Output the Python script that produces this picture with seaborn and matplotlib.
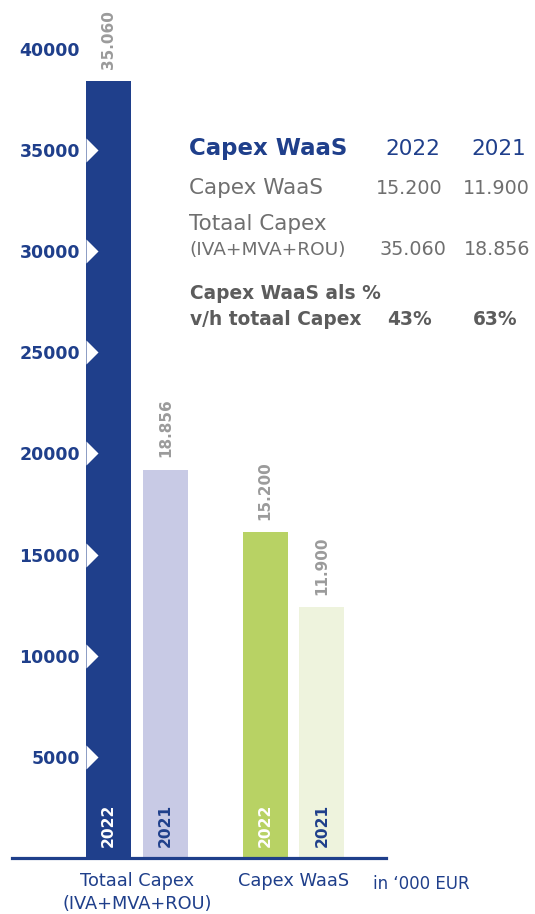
import numpy as np
import pandas as pd
import seaborn as sns
import matplotlib.pyplot as plt
from matplotlib.path import Path

# ---------------------------------------------------------------------------
# data
# ---------------------------------------------------------------------------
groups = ["Totaal Capex\n(IVA+MVA+ROU)", "Totaal Capex\n(IVA+MVA+ROU)",
          "Capex WaaS", "Capex WaaS"]
years = ["2022", "2021", "2022", "2021"]
# heights as drawn in the source picture (bars are not exactly to scale)
bar_heights = [38400, 19200, 16100, 12400]
value_labels = ["35.060", "18.856", "15.200", "11.900"]

y_ticks = [5000, 10000, 15000, 20000, 25000, 30000, 35000, 40000]

table_years = ["2022", "2021"]
waas_values = ["15.200", "11.900"]
total_values = ["35.060", "18.856"]
share_values = ["43%", "63%"]

NAVY = "#1f3f8b"
GRAY_VAL = "#9b9b9b"
GRAY_TXT = "#6f6f6f"
GRAY_BOLD = "#5c5c5c"
bar_colors = ["#1f3f8b", "#c8cae5", "#b8d264", "#eef3dd"]
year_text_colors = ["white", NAVY, "white", NAVY]

df = pd.DataFrame({"group": groups, "year": years, "height": bar_heights,
                   "label": value_labels, "color": bar_colors,
                   "ycolor": year_text_colors})

# ---------------------------------------------------------------------------
# figure
# ---------------------------------------------------------------------------
sns.set_style("white")
plt.rcParams["font.family"] = ["DejaVu Sans"]

W, H = 535, 914
fig = plt.figure(figsize=(W / 100, H / 100), dpi=100)
ax = fig.add_axes([12 / W, 56 / H, 374 / W, 829.4 / H])

sns.barplot(data=df, x="group", y="height", hue="year", hue_order=["2022", "2021"],
            order=[groups[0], groups[2]], width=0.728, gap=0.21,
            palette=["#1f3f8b", "#c8cae5"], errorbar=None, legend=False, ax=ax)

ax.set_ylim(0, 41000)
ax.set_xlim(-0.799, 1.591)

# recolour each bar and add labels
for hue_i, cont in enumerate(ax.containers):
    yr = ["2022", "2021"][hue_i]
    sub = df[df["year"] == yr].reset_index(drop=True)
    for bar, (_, row) in zip(cont, sub.iterrows()):
        bar.set_facecolor(row["color"])
        bar.set_edgecolor("none")
        cx = bar.get_x() + bar.get_width() / 2
        ax.annotate(yr, xy=(cx, 0), xytext=(0, 8), textcoords="offset points",
                    rotation=90, ha="center", va="bottom", fontsize=11.2,
                    fontweight="bold", color=row["ycolor"])
    ax.bar_label(cont, labels=list(sub["label"]), rotation=90, padding=9,
                 fontsize=11, fontweight="bold", color=GRAY_VAL)

# white chevron notches on the first bar at each tick
first_bar = ax.containers[0][0]
chevron = Path([(0, -1), (1, 0), (0, 1), (0, -1)])
ax.scatter([first_bar.get_x()] * len(y_ticks), y_ticks, marker=chevron,
           s=300, color="white", linewidths=0, zorder=5, clip_on=False)

# axes styling
for side in ["top", "right", "left"]:
    ax.spines[side].set_visible(False)
ax.spines["bottom"].set_color(NAVY)
ax.spines["bottom"].set_linewidth(2.3)

ax.set_yticks(y_ticks)
ax.set_yticklabels([str(v) for v in y_ticks], fontweight="bold", fontsize=12.5)
ax.tick_params(axis="y", length=0, pad=-49, labelcolor=NAVY)
ax.tick_params(axis="x", length=0, pad=10, labelcolor=NAVY, labelsize=12.8)
for lbl in ax.get_xticklabels():
    lbl.set_linespacing(1.4)
ax.set_xlabel("")
ax.set_ylabel("")
ax.grid(False)


def fx(x):
    return x / W


def fy(y):
    return 1 - y / H


fig.text(fx(373), fy(889), "in \u2018000 EUR", color=NAVY, fontsize=12, va="baseline")

# ---------------------------------------------------------------------------
# summary table
# ---------------------------------------------------------------------------
fig.text(fx(189), fy(155), "Capex WaaS", color=NAVY, fontsize=16.5,
         fontweight="bold", va="baseline")
for txt, xr in zip(table_years, [440, 526]):
    fig.text(fx(xr), fy(155), txt, color=NAVY, fontsize=15.5, ha="right", va="baseline")

fig.text(fx(189), fy(194), "Capex WaaS", color=GRAY_TXT, fontsize=15.5, va="baseline")
for txt, xr in zip(waas_values, [443, 530]):
    fig.text(fx(xr), fy(194), txt, color=GRAY_TXT, fontsize=13.8, ha="right", va="baseline")

fig.text(fx(189), fy(230), "Totaal Capex", color=GRAY_TXT, fontsize=15.5, va="baseline")
fig.text(fx(189), fy(255), "(IVA+MVA+ROU)", color=GRAY_TXT, fontsize=13.3, va="baseline")
for txt, xr in zip(total_values, [446, 530]):
    fig.text(fx(xr), fy(255), txt, color=GRAY_TXT, fontsize=13.8, ha="right", va="baseline")

fig.text(fx(190), fy(299), "Capex WaaS als %", color=GRAY_BOLD, fontsize=13.4,
         fontweight="bold", va="baseline")
fig.text(fx(190), fy(325), "v/h totaal Capex", color=GRAY_BOLD, fontsize=13.4,
         fontweight="bold", va="baseline")
for txt, xr in zip(share_values, [432, 518]):
    fig.text(fx(xr), fy(325), txt, color=GRAY_BOLD, fontsize=13.4,
             fontweight="bold", ha="right", va="baseline")

fig.savefig("out.png", dpi=100)
